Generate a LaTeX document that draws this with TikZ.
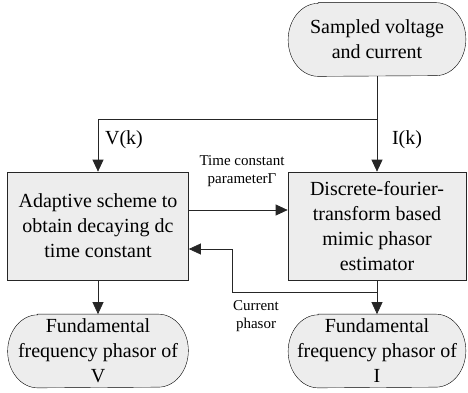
\documentclass[tikz,border=0pt]{standalone}
\usepackage{fontspec}
\setmainfont{Liberation Serif}
\usepackage{tikz}
\usetikzlibrary{arrows.meta, positioning, backgrounds}
\definecolor{boxfill}{RGB}{237,237,237}

\begin{document}
\begin{tikzpicture}[x=1pt, y=1pt,
    block/.style={draw, fill=boxfill, align=center, inner sep=0pt,
        font=\fontsize{20}{25}\selectfont},
    term/.style={align=center, inner sep=0pt, minimum height=73pt,
        font=\fontsize{20}{25}\selectfont},
    lbl/.style={align=center, inner sep=0pt, font=\fontsize{20}{25}\selectfont},
    small/.style={align=center, inner sep=0pt, font=\fontsize{15}{17.5}\selectfont},
    flow/.style={-{Triangle[length=12pt, width=11pt]}},
    line width=0.7pt, draw=black!85]
    \useasboundingbox (0,0) rectangle (468,392);
    % input
    \node[term, minimum width=177pt] (src) at (377,352.5)
        {Sampled voltage\\and current};
    % processing blocks
    \node[block, minimum width=181pt, minimum height=108pt] (adapt) at (98,166)
        {Adaptive scheme to\\obtain decaying dc\\time constant};
    \node[block, minimum width=178pt, minimum height=108pt] (dft) at (377,166)
        {Discrete-fourier-\\transform based\\mimic phasor\\estimator};
    % outputs
    \node[term, minimum width=180pt] (fv) at (98,41)
        {Fundamental\\frequency phasor of\\V};
    \node[term, minimum width=177pt] (fi) at (377,41)
        {Fundamental\\frequency phasor of\\I};
    % terminal outlines with elliptic ends
    \begin{scope}[on background layer]
    \foreach \n in {src, fv, fi}
        \draw[fill=boxfill] ([xshift=30pt]\n.north west) -- ([xshift=-30pt]\n.north east)
            arc[start angle=90, end angle=-90, x radius=30pt, y radius=36.5pt]
            -- ([xshift=30pt]\n.south west)
            arc[start angle=270, end angle=90, x radius=30pt, y radius=36.5pt] -- cycle;
    \end{scope}
    % split of the samples
    \coordinate (split) at (377,273);
    \coordinate (vk) at (98,273);
    \draw (src.south) -- (split);
    \draw[flow] (split) -- (dft.north);
    \draw[flow] (split) -- (vk) -- (adapt.north);
    \node[lbl] (vlab) at (124,252) {V(k)};
    \node[lbl] (ilab) at (407,252) {I(k)};
    % time constant to estimator
    \draw[flow] ([yshift=16pt]adapt.east) -- ([yshift=16pt]adapt.east -| dft.west);
    \node[small] (tclab) at (242,221) {Time constant\\parameterΓ};
    % current phasor fed back
    \coordinate (tap) at (377,100);
    \coordinate (bend) at (232,100);
    \draw[flow] (dft.south) -- (fi.north);
    \draw[flow] (tap) -- (bend) |- ([yshift=-23pt]adapt.east);
    \node[small] (cplab) at (256,76) {Current\\phasor};
    % voltage phasor out
    \draw[flow] (adapt.south) -- (fv.north);
\end{tikzpicture}
\end{document}
